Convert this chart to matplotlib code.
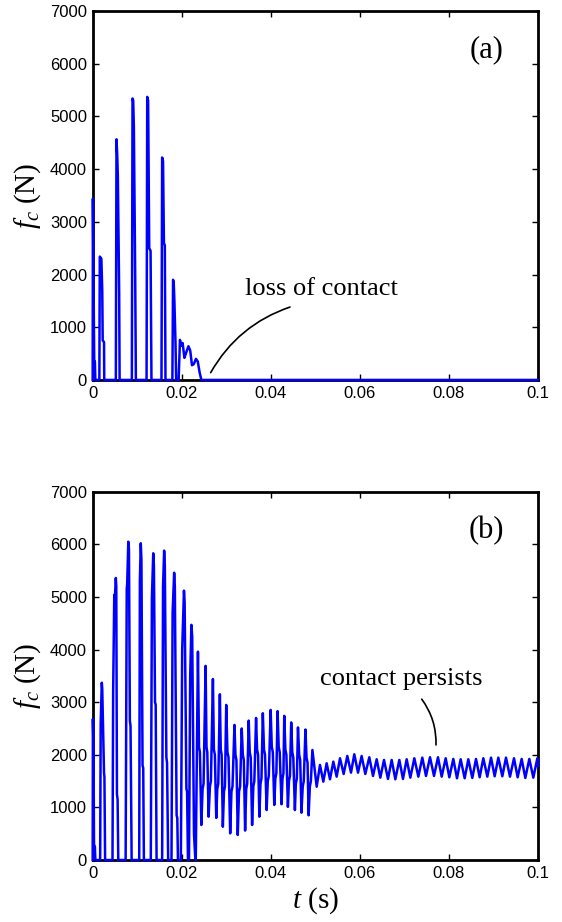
import numpy as np
import matplotlib
matplotlib.use('Agg')
import matplotlib.pyplot as plt

plt.rcParams['font.family'] = ['Liberation Sans', 'DejaVu Sans']
plt.rcParams['mathtext.fontset'] = 'custom'
plt.rcParams['mathtext.rm'] = 'Liberation Serif'
plt.rcParams['mathtext.it'] = 'Liberation Serif:italic'

# (a) contact force, times in ms, force in N
t_a = [0, 0.05, 0.15, 0.35, 0.5, 0.6,
       1.5, 1.6, 1.95, 2.15, 2.25, 2.55, 2.6,
       5.2, 5.35, 5.5, 5.65, 5.95, 6.05,
       8.8, 8.95, 9.1, 9.25, 9.55, 9.7,
       12.1, 12.25, 12.45, 12.7, 13.0, 13.2,
       15.45, 15.6, 15.8, 16.0, 16.2, 16.35,
       17.9, 18.05, 18.2, 18.35, 18.6, 18.75,
       19.3, 19.6, 19.9, 20.2, 20.6, 21.0, 21.5, 21.9, 22.3, 22.7, 23.2, 23.6, 24.0, 24.4,
       100]
f_a = [0, 3440, 2300, 350, 350, 0,
       0, 2340, 2300, 1700, 750, 720, 0,
       0, 4565, 4300, 3870, 1650, 0,
       0, 5340, 5300, 4800, 1950, 0,
       0, 5370, 5300, 2500, 2450, 0,
       0, 4220, 4150, 2600, 2550, 0,
       0, 1900, 1850, 1500, 700, 0,
       0, 760, 650, 700, 420, 520, 640, 560, 280, 300, 400, 350, 150, 0,
       0]

# (b) impacts with loss of contact in between
t_imp = [0, 0.05, 0.2, 0.3, 0.5, 0.6,
         1.68, 1.80, 2.05, 2.15, 2.55, 2.64, 2.79,
         4.45, 4.6, 4.85, 5.0, 5.2, 5.3, 5.45, 5.6, 5.75,
         7.4, 7.65, 7.75, 8.0, 8.15, 8.35, 8.5, 8.75,
         10.45, 10.6, 10.8, 10.95, 11.2, 11.35, 11.5,
         13.05, 13.3, 13.6, 13.75, 14.0, 14.15, 14.35,
         15.6, 15.8, 16.05, 16.2, 16.55, 16.7, 16.95,
         17.7, 17.95, 18.3, 18.45, 18.85, 19.0, 19.15,
         19.8, 20.1, 20.5, 20.65, 21.05, 21.2, 21.4,
         21.63, 21.9, 22.17, 22.35, 22.75, 23.06, 23.15]
f_imp = [0, 2680, 2030, 300, 250, 0,
         0, 2600, 3370, 3250, 1650, 1580, 0,
         0, 3200, 5040, 5000, 5360, 5200, 1250, 1150, 0,
         0, 5150, 5250, 6050, 5900, 2650, 2550, 0,
         0, 5300, 6020, 5700, 1800, 1750, 0,
         0, 4980, 5830, 5600, 3000, 2950, 0,
         0, 5200, 5880, 5600, 1950, 1850, 0,
         0, 4700, 5460, 5200, 850, 800, 0,
         0, 4000, 5120, 4900, 1350, 1300, 0,
         0, 3500, 4470, 4250, 500, 0, 0]

# (b) transient with contact kept: peak, shoulder, trough, shoulder, ...
t_tr = [23.64, 23.88, 24.08, 24.40, 24.68, 24.90,
        25.36, 25.56, 25.74, 26.03, 26.33, 26.55,
        27.00, 27.22, 27.44, 27.75, 27.98, 28.20,
        28.56, 28.76, 28.96, 29.23, 29.48, 29.70,
        29.99, 30.26, 30.50, 30.88, 31.16, 31.40,
        31.84, 32.06, 32.28, 32.58, 32.86, 33.10,
        33.47, 33.72, 33.94, 34.23, 34.48, 34.70,
        35.04, 35.27, 35.49, 35.80, 36.08, 36.30,
        36.69, 36.92, 37.14, 37.43, 37.68, 37.90,
        38.21, 38.47, 38.70, 39.06, 39.32, 39.55,
        39.96, 40.22, 40.45, 40.78, 41.02, 41.25,
        41.52, 41.77, 42.00, 42.41, 42.62, 42.84,
        43.02, 43.27, 43.50, 43.84, 44.07, 44.30,
        44.58, 44.82, 45.05, 45.41, 45.62, 45.85,
        46.10, 46.37, 46.60, 46.88, 47.17, 47.40,
        47.78, 48.02, 48.25, 48.49, 48.77, 49.00,
        49.34, 50.30]
f_tr = [3960, 2150, 2050, 666, 1350, 1450,
        3690, 2150, 2050, 824, 1400, 1500,
        3440, 2100, 2000, 800, 1350, 1450,
        3150, 2100, 2000, 633, 1300, 1400,
        2948, 2050, 1950, 507, 1300, 1400,
        2568, 2000, 1900, 476, 1300, 1400,
        2500, 2000, 1900, 560, 1350, 1450,
        2650, 2050, 1950, 666, 1400, 1500,
        2700, 2100, 2000, 824, 1450, 1550,
        2790, 2100, 2000, 950, 1500, 1600,
        2853, 2150, 2050, 1046, 1550, 1650,
        2830, 2150, 2050, 1060, 1550, 1650,
        2740, 2100, 2000, 1010, 1500, 1600,
        2615, 2050, 1950, 950, 1450, 1550,
        2520, 2000, 1900, 900, 1400, 1500,
        2480, 1950, 1850, 850, 1400, 1500,
        2092, 1394]

# (b) persistent contact
t_ss = [51.04, 51.79, 52.54, 53.29, 54.04, 54.79, 55.54, 56.36, 57.18, 58.01,
        58.75, 59.58, 60.40, 61.22, 62.12, 62.95, 63.77, 64.59, 65.42, 66.31,
        67.14, 67.96, 68.86, 69.68, 70.51, 71.33, 72.23, 73.13, 74.02, 74.85,
        75.75, 76.65, 77.54, 78.37, 79.27, 80.09, 80.98, 81.81, 82.63, 83.53,
        84.35, 85.25, 86.08, 86.90, 87.72, 88.62, 89.45, 90.27, 91.09, 91.99,
        92.81, 93.71, 94.61, 95.43, 96.33, 97.15, 98.05, 98.95, 99.85, 100.0]
f_ss = [1807, 1490, 1839, 1535, 1870, 1585, 1934, 1636, 1978, 1661,
        2010, 1661, 1978, 1636, 1953, 1598, 1915, 1566, 1902, 1541,
        1902, 1535, 1902, 1541, 1915, 1566, 1934, 1585, 1946, 1598,
        1953, 1598, 1953, 1585, 1934, 1573, 1921, 1554, 1915, 1554,
        1915, 1560, 1921, 1573, 1934, 1585, 1946, 1592, 1946, 1592,
        1946, 1585, 1934, 1573, 1921, 1560, 1921, 1566, 1934, 1790]

t_b = np.array(t_imp + t_tr + t_ss) / 1000
f_b = np.array(f_imp + f_tr + f_ss)
t_a = np.array(t_a) / 1000
f_a = np.array(f_a)

xticks = [0, 0.02, 0.04, 0.06, 0.08, 0.1]
xticklabels = ['0', '0.02', '0.04', '0.06', '0.08', '0.1']
yticks = [0, 1000, 2000, 3000, 4000, 5000, 6000, 7000]

fig = plt.figure(figsize=(5.62, 9.22), dpi=100)
ax1 = fig.add_axes([0.1649, 0.5879, 0.7924, 0.4002])
ax2 = fig.add_axes([0.1649, 0.0672, 0.7924, 0.3995])

serif = 'Liberation Serif'

for ax, t, f, tag in [(ax1, t_a, f_a, '(a)'), (ax2, t_b, f_b, '(b)')]:
    ax.plot(t, f, color='#0000ff', lw=1.8, zorder=3, clip_on=False)
    ax.set_xlim(0, 0.1)
    ax.set_ylim(0, 7000)
    ax.set_xticks(xticks)
    ax.set_xticklabels(xticklabels)
    ax.set_yticks(yticks)
    ax.tick_params(direction='in', top=True, right=True, length=4, width=1,
                   labelsize=12, pad=4)
    for s in ax.spines.values():
        s.set_linewidth(2.0)
    ax.set_ylabel(r'$f_c$ (N)', fontsize=21, family=serif)
    ax.yaxis.set_label_coords(-0.112, 0.5)
    ax.text(0.0884, 6125, tag, fontsize=22, family=serif, ha='center', va='baseline')

ax2.set_xlabel(r'$t$ (s)', fontsize=21, family=serif, va='center')
ax2.xaxis.set_label_coords(0.5, -0.109)

ax1.text(0.0513, 1617, 'loss of contact', fontsize=19, family=serif,
         ha='center', va='baseline')
ax1.annotate('', xy=(0.0265, 139), xytext=(0.0443, 1383),
             arrowprops=dict(arrowstyle='-', color='k', lw=1.2, shrinkA=0, shrinkB=0,
                             connectionstyle='arc3,rad=0.19'))

ax2.text(0.0692, 3329, 'contact persists', fontsize=19, family=serif,
         ha='center', va='baseline')
ax2.annotate('', xy=(0.0771, 2188), xytext=(0.0739, 3057),
             arrowprops=dict(arrowstyle='-', color='k', lw=1.2, shrinkA=0, shrinkB=0,
                             connectionstyle='arc3,rad=-0.17'))

fig.savefig('out.png', dpi=100)
